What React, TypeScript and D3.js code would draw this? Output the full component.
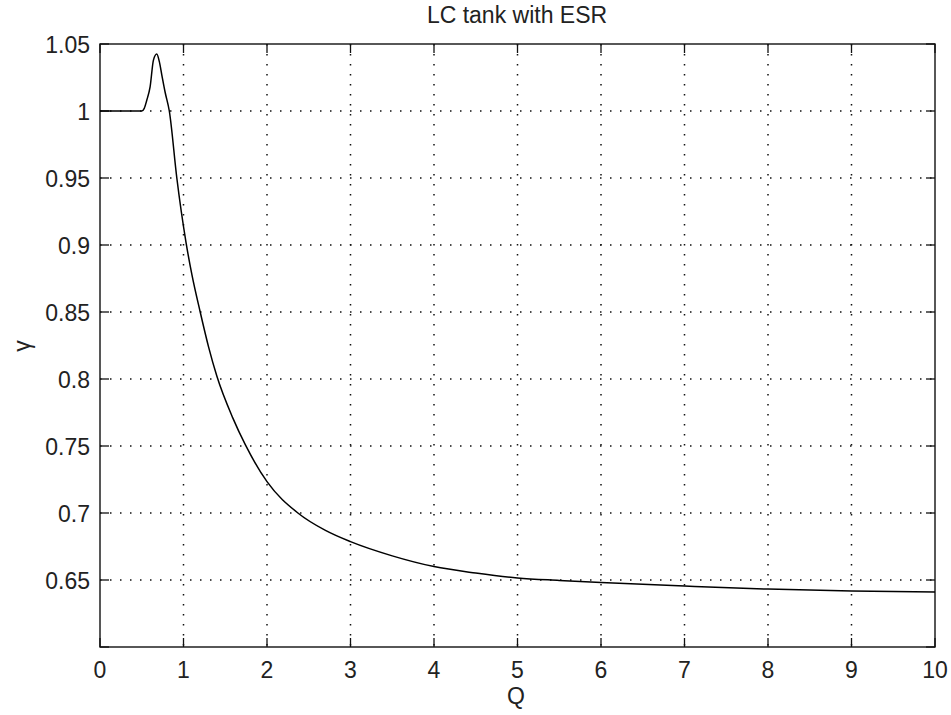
import React from "react";
import * as d3 from "d3";

const qValues = [0, 0.5, 0.53, 0.56, 0.6, 0.64, 0.68, 0.71, 0.74, 0.78, 0.83, 0.92, 1.03, 1.1, 1.2, 1.3, 1.4, 1.59, 1.74, 2.0, 2.37, 2.7, 3.0, 3.5, 4.0, 4.5, 5.0, 5.5, 6.0, 7.0, 8.0, 9.0, 10.0];
const gammaValues = [1.0, 1.0, 1.002, 1.008, 1.018, 1.038, 1.0425, 1.037, 1.027, 1.014, 1.0, 0.95, 0.902, 0.878, 0.85, 0.824, 0.802, 0.771, 0.751, 0.7234, 0.7, 0.687, 0.6786, 0.668, 0.66, 0.6552, 0.6515, 0.6497, 0.6482, 0.6455, 0.6432, 0.6418, 0.641];
const xTicks = [0, 1, 2, 3, 4, 5, 6, 7, 8, 9, 10];
const yTicks = [0.6, 0.65, 0.7, 0.75, 0.8, 0.85, 0.9, 0.95, 1.0, 1.05];
const yTickLabels = ["", "0.65", "0.7", "0.75", "0.8", "0.85", "0.9", "0.95", "1", "1.05"];
const titleText = "LC tank with ESR";
const xLabel = "Q";
const yLabel = "γ";

const W = 951, H = 715;
const left = 100, right = 935, top = 44, bottom = 647;
const FONT = "'Liberation Sans', Arial, sans-serif";

export default function App() {
  const x = d3.scaleLinear().domain([0, 10]).range([left, right]);
  const y = d3.scaleLinear().domain([0.6, 1.05]).range([bottom, top]);
  const pts = qValues.map((q, i) => [q, gammaValues[i]] as [number, number]);
  const line = d3.line<[number, number]>().x(d => x(d[0])).y(d => y(d[1])).curve(d3.curveMonotoneX);
  const tl = 9;
  const fs = 23;
  return (
    <svg width={W} height={H} style={{ position: "absolute", left: 0, top: 0, background: "#fff" }}>
      <rect x={0} y={0} width={W} height={H} fill="#fff" />
      {xTicks.slice(1, -1).map(t => (
        <line key={"gx" + t} x1={x(t)} x2={x(t)} y1={top} y2={bottom} stroke="#111" strokeWidth={1.5} strokeDasharray="1.5 8.5" />
      ))}
      {yTicks.slice(1, -1).map(t => (
        <line key={"gy" + t} x1={left} x2={right} y1={y(t)} y2={y(t)} stroke="#111" strokeWidth={1.5} strokeDasharray="1.5 8.5" />
      ))}
      {xTicks.map(t => (
        <g key={"tx" + t}>
          <line x1={x(t)} x2={x(t)} y1={bottom} y2={bottom - tl} stroke="#111" strokeWidth={1.3} />
          <line x1={x(t)} x2={x(t)} y1={top} y2={top + tl} stroke="#111" strokeWidth={1.3} />
          <text x={x(t)} y={678} textAnchor="middle" fontFamily={FONT} fontSize={fs} fill="#222">{t}</text>
        </g>
      ))}
      {yTicks.map((t, i) => (
        <g key={"ty" + t}>
          <line x1={left} x2={left + tl} y1={y(t)} y2={y(t)} stroke="#111" strokeWidth={1.3} />
          <line x1={right} x2={right - tl} y1={y(t)} y2={y(t)} stroke="#111" strokeWidth={1.3} />
          <text x={90} y={y(t) + 8.5} textAnchor="end" fontFamily={FONT} fontSize={fs} fill="#222">{yTickLabels[i]}</text>
        </g>
      ))}
      <rect x={left} y={top} width={right - left} height={bottom - top} fill="none" stroke="#111" strokeWidth={1.4} />
      <path d={line(pts) || ""} fill="none" stroke="#000" strokeWidth={1.5} />
      <text x={517} y={23} textAnchor="middle" fontFamily={FONT} fontSize={fs} fill="#222">{titleText}</text>
      <text x={516} y={704} textAnchor="middle" fontFamily={FONT} fontSize={fs} fill="#222">{xLabel}</text>
      <text transform={`translate(30,346) rotate(-90)`} textAnchor="middle" fontFamily={FONT} fontSize={fs} fill="#222">{yLabel}</text>
    </svg>
  );
}
